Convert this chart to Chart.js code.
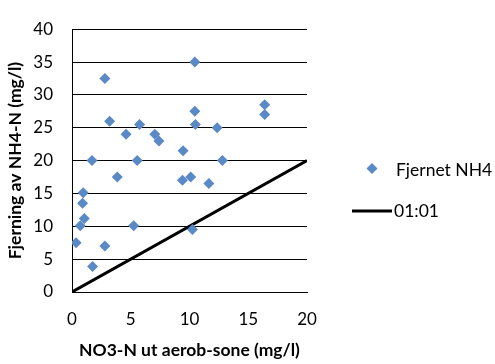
<!DOCTYPE html>
<html lang="no">
<head>
  <meta charset="UTF-8">
  <title>Fjerning av NH4-N</title>
  <script src="https://cdn.jsdelivr.net/npm/chart.js@4.4.1/dist/chart.umd.min.js"></script>
  <style>
    html, body { margin: 0; padding: 0; background: #fff; }
  </style>
</head>
<body>
<canvas id="chart" width="495" height="364"></canvas>

<script>
  // NO3-N ut aerob-sone (mg/l) vs fjernet NH4-N (mg/l)
  const no3 = [0.35, 0.7, 1.05, 0.9, 0.95, 1.75, 1.7, 2.8, 2.8, 3.2, 3.85, 4.6, 5.25, 5.55, 5.75,
               7.05, 7.4, 9.45, 9.4, 10.1, 10.25, 10.45, 10.45, 10.5, 11.65, 12.35, 12.8, 16.4, 16.4];
  const nh4 = [7.5, 10.1, 11.2, 13.5, 15.1, 3.9, 20.0, 7.0, 32.5, 26.0, 17.5, 24.0, 10.1, 20.0, 25.5,
               24.0, 23.0, 21.5, 17.0, 17.5, 9.5, 35.0, 27.5, 25.5, 16.5, 25.0, 20.0, 28.5, 27.0];
  const lineX = [0, 20];
  const lineY = [0, 20];
  const seriesNames = ['Fjernet NH4', '01:01'];
  const xTicks = [0, 5, 10, 15, 20];
  const yTicks = [0, 5, 10, 15, 20, 25, 30, 35, 40];

  const pointColor = '#5A8AC6';
  const fam = 'Lato, "Open Sans", sans-serif';

  // legend drawn by hand to sit where Excel put it
  const sideLegend = {
    id: 'sideLegend',
    afterDraw(chart) {
      const ctx = chart.ctx;
      const ds = chart.data.datasets;
      ctx.save();
      ctx.font = '17.5px ' + fam;
      ctx.textBaseline = 'middle';
      // diamond
      ctx.fillStyle = pointColor;
      ctx.beginPath();
      ctx.moveTo(372, 163); ctx.lineTo(377.5, 168.5); ctx.lineTo(372, 174); ctx.lineTo(366.5, 168.5);
      ctx.closePath();
      ctx.fill();
      ctx.fillStyle = '#000';
      ctx.fillText(ds[0].label, 396, 170);
      // line
      ctx.strokeStyle = '#000';
      ctx.lineWidth = 3;
      ctx.beginPath();
      ctx.moveTo(352, 211); ctx.lineTo(392, 211);
      ctx.stroke();
      ctx.fillText(ds[1].label, 394, 211);
      ctx.restore();
    }
  };

  const ctx = document.getElementById('chart').getContext('2d');
  new Chart(ctx, {
    type: 'scatter',
    data: {
      datasets: [
        {
          label: seriesNames[0],
          data: no3.map((x, i) => ({ x: x, y: nh4[i] })),
          pointStyle: 'rectRot',
          pointRadius: 5.5,
          pointBackgroundColor: pointColor,
          pointBorderWidth: 0,
          borderColor: pointColor
        },
        {
          type: 'line',
          label: seriesNames[1],
          data: lineX.map((x, i) => ({ x: x, y: lineY[i] })),
          borderColor: '#000',
          borderWidth: 3,
          pointRadius: 0,
          fill: false
        }
      ]
    },
    options: {
      responsive: false,
      animation: false,
      devicePixelRatio: 1,
      layout: { padding: { top: 13, right: 188, bottom: 0, left: 0 } },
      plugins: {
        legend: { display: false },
        tooltip: { enabled: false }
      },
      scales: {
        x: {
          type: 'linear',
          min: 0,
          max: 20,
          afterBuildTicks(s) { s.ticks = xTicks.map(v => ({ value: v })); },
          afterFit(s) { s.height = 72; },
          ticks: { color: '#000', padding: 17, maxRotation: 0, font: { family: fam, size: 17 } },
          grid: { drawTicks: false, color: 'rgba(0,0,0,0)' },
          border: { display: true, color: '#000', width: 1 },
          title: {
            display: true,
            text: 'NO3-N ut aerob-sone (mg/l)',
            color: '#000',
            font: { family: fam, size: 17.5, weight: 'bold' },
            padding: { top: 0, bottom: 3 }
          }
        },
        y: {
          min: 0,
          max: 40,
          afterBuildTicks(s) { s.ticks = yTicks.map(v => ({ value: v })); },
          afterFit(s) { s.width = 72; },
          ticks: { color: '#000', padding: 19, font: { family: fam, size: 17 } },
          grid: { drawTicks: false, color: '#000', lineWidth: 1 },
          border: { display: true, color: '#000', width: 1 },
          title: {
            display: true,
            text: 'Fjerning av NH4-N (mg/l)',
            color: '#000',
            font: { family: fam, size: 17.5, weight: 'bold' },
            padding: { top: 5, bottom: 0 }
          }
        }
      }
    },
    plugins: [sideLegend]
  });
</script>
</body>
</html>
